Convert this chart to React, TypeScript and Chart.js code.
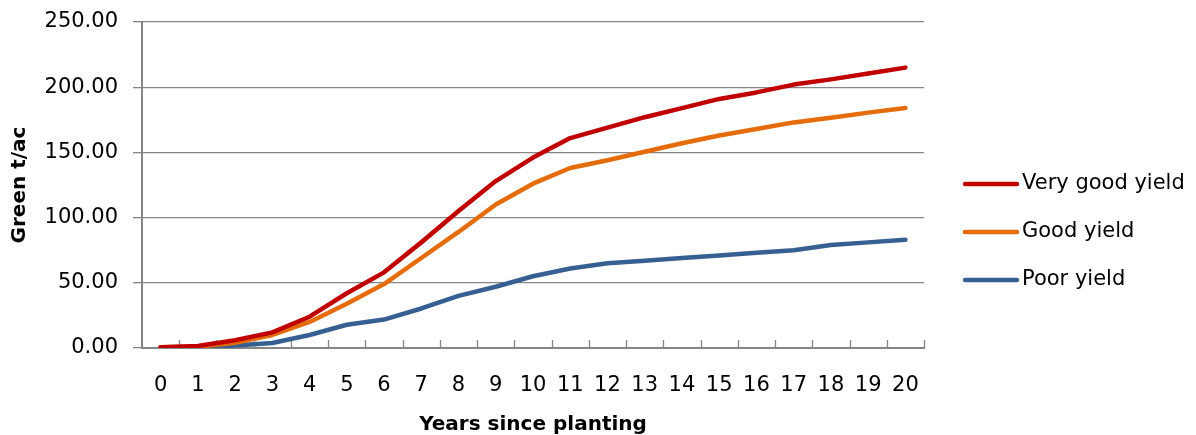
import React, { useEffect, useRef } from "react";
import { Chart, registerables } from "chart.js";

Chart.register(...registerables);

const years = ["0","1","2","3","4","5","6","7","8","9","10","11","12","13","14","15","16","17","18","19","20"];
const veryGoodYield = [0.5, 1.5, 6, 12, 24, 42, 58, 81, 105, 128, 146, 161, 169, 177, 184, 191, 196, 202, 206, 210.5, 215];
const goodYield = [0.5, 1, 4, 10, 20, 34, 49, 69, 89, 110, 126, 138, 144, 150.5, 157, 163, 168, 173, 176.5, 180.5, 184];
const poorYield = [0.5, 0.8, 2, 3.8, 10, 17.8, 21.8, 30.3, 40, 47, 55, 61, 65, 67, 69, 71, 73, 75, 79, 81, 83];
const seriesNames = ["Very good yield", "Good yield", "Poor yield"];
const seriesColors = ["#C00000", "#E46C0A", "#376092"];
const yTicks = [0, 50, 100, 150, 200, 250];

const FONT = "'DejaVu Sans', sans-serif";
const GRID = "#868686";

export default function App() {
  const ref = useRef<HTMLCanvasElement | null>(null);
  useEffect(() => {
    if (!ref.current) return;
    const insideTicks = {
      id: "insideTicks",
      beforeDatasetsDraw(chart: any) {
        const { ctx, chartArea } = chart;
        const n = years.length;
        const w = (chartArea.right - chartArea.left) / n;
        ctx.save();
        ctx.strokeStyle = GRID;
        ctx.lineWidth = 1.3;
        for (let i = 1; i <= n; i++) {
          const x = Math.round(chartArea.left + i * w) + 0.5;
          ctx.beginPath();
          ctx.moveTo(x, chartArea.bottom);
          ctx.lineTo(x, chartArea.bottom - 8);
          ctx.stroke();
        }
        ctx.restore();
      },
    };
    const sideLegend = {
      id: "sideLegend",
      afterDraw(chart: any) {
        const { ctx } = chart;
        ctx.save();
        chart.data.datasets.forEach((ds: any, i: number) => {
          const y = 184 + i * 48;
          ctx.strokeStyle = ds.borderColor;
          ctx.lineWidth = 4.5;
          ctx.lineCap = "round";
          ctx.beginPath();
          ctx.moveTo(965, y);
          ctx.lineTo(1017, y);
          ctx.stroke();
          ctx.fillStyle = "#000";
          ctx.font = `21px ${FONT}`;
          ctx.textBaseline = "middle";
          ctx.textAlign = "left";
          ctx.fillText(ds.label, 1022, y);
        });
        ctx.restore();
      },
    };
    const chart = new Chart(ref.current, {
      type: "line",
      data: {
        labels: years,
        datasets: [veryGoodYield, goodYield, poorYield].map((d, i) => ({
          label: seriesNames[i],
          data: d,
          borderColor: seriesColors[i],
          backgroundColor: seriesColors[i],
          borderWidth: 4.5,
          borderCapStyle: "round",
          borderJoinStyle: "round",
          pointRadius: 0,
          tension: 0,
        })),
      },
      options: {
        responsive: false,
        animation: false,
        layout: { padding: { top: 22, right: 272, bottom: 0, left: 0 } },
        plugins: { legend: { display: false }, tooltip: { enabled: false } },
        scales: {
          x: {
            type: "category",
            offset: true,
            grid: { display: false },
            border: { display: true, color: GRID, width: 2 },
            ticks: { color: "#000", font: { family: FONT, size: 21 }, padding: 17, maxRotation: 0, autoSkip: false },
            title: { display: true, text: "Years since planting", color: "#000", font: { family: FONT, size: 20, weight: "bold" }, padding: { top: 0, bottom: -2 } },
            afterFit: (s: any) => { s.height = 87; s.paddingLeft = 0; s.paddingRight = 0; },
          },
          y: {
            min: 0,
            max: 250,
            afterBuildTicks: (s: any) => { s.ticks = yTicks.map((v) => ({ value: v })); },
            grid: { color: GRID, lineWidth: 1.3, tickLength: 9 },
            border: { display: true, color: GRID, width: 2 },
            ticks: { color: "#000", font: { family: FONT, size: 21 }, padding: 15, callback: (v: any) => Number(v).toFixed(2) },
            title: { display: true, text: "Green t/ac", color: "#000", font: { family: FONT, size: 20, weight: "bold" }, padding: { top: 8, bottom: 0 } },
            afterFit: (s: any) => { s.width = 142; s.paddingTop = 0; s.paddingBottom = 0; },
          },
        },
      },
      plugins: [insideTicks, sideLegend],
    } as any);
    return () => chart.destroy();
  }, []);
  return (
    <div style={{ position: "absolute", left: 0, top: 0, width: 1196, height: 435, background: "#fff" }}>
      <canvas ref={ref} width={1196} height={435} />
    </div>
  );
}
